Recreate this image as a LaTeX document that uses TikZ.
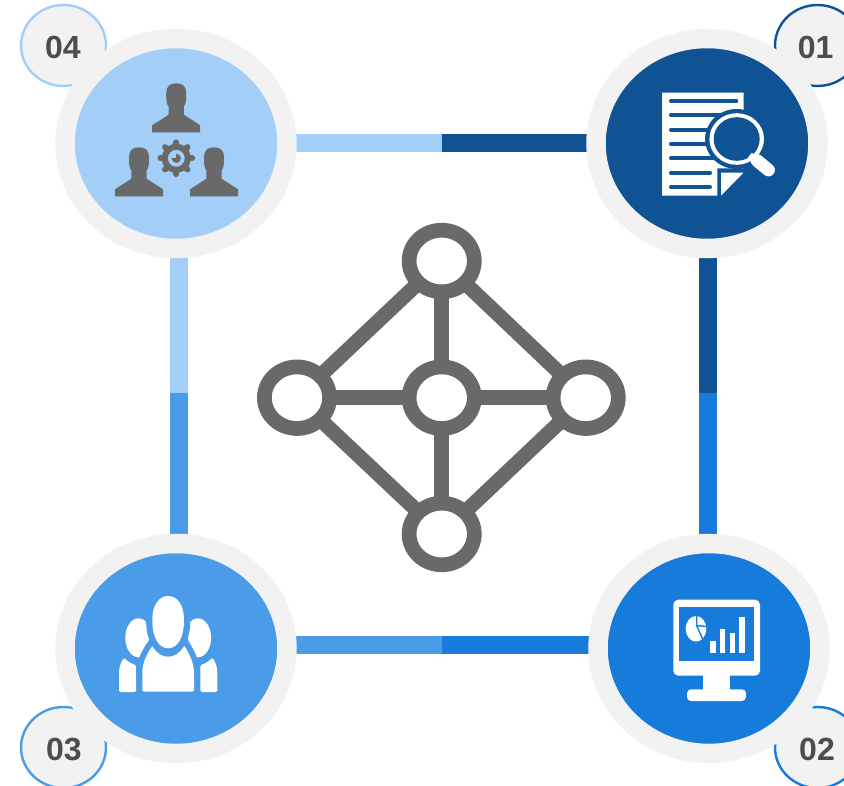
\documentclass[tikz,border=0pt]{standalone}
\usepackage{fontspec}
\setmainfont{Liberation Sans}
\usetikzlibrary{shapes.geometric}
\pgfdeclarelayer{behind}
\pgfsetlayers{behind,main}
\definecolor{cone}{HTML}{0F5394}
\definecolor{ctwo}{HTML}{167BDA}
\definecolor{cthree}{HTML}{4A9CE8}
\definecolor{cfour}{HTML}{A3CEF7}
\definecolor{ring}{HTML}{F2F2F2}
\definecolor{icongray}{HTML}{696969}
\definecolor{numgray}{HTML}{4D4D4D}
\tikzset{
  bigdisc/.style={ellipse,inner sep=0pt,minimum width=222pt,minimum height=210pt,draw=ring,line width=19.5pt},
  badge/.style={ellipse,inner sep=0pt,minimum width=85pt,minimum height=81pt,fill=ring,line width=2.4pt},
  numtext/.style={inner sep=0pt,text=numgray,font=\fontsize{32}{32}\selectfont\bfseries},
  hub/.style={ellipse,inner sep=0pt,minimum width=65.2pt,minimum height=61.6pt,draw=icongray,fill=white,line width=14.7pt},
  spoke/.style={draw=icongray,line width=14.7pt},
  bar/.style={line width=18pt},
  textline/.style={line width=4pt,line cap=round,draw=cone},
  bust/.pic={
    \fill[icongray] (-24,0) -- (-24,-7) -- (-7.7,-17.5) -- (-7.7,-26)
      .. controls (-9.5,-28) and (-10,-31) .. (-10,-39)
      .. controls (-10,-46) and (-6.5,-49) .. (0,-49)
      .. controls (6.5,-49) and (10,-46) .. (10,-39)
      .. controls (10,-31) and (9.5,-28) .. (7.7,-26)
      -- (7.7,-17.5) -- (24,-7) -- (24,0) -- cycle;
  }
}
\begin{document}
\begin{tikzpicture}[x=1pt,y=-1pt]
\useasboundingbox (0,0) rectangle (844,786);
% big discs
\node[bigdisc,fill=cfour] (d4) at (176,143.5) {};
\node[bigdisc,fill=cone] (d1) at (707,143.5) {};
\node[bigdisc,fill=cthree] (d3) at (176,648.5) {};
\node[bigdisc,fill=ctwo] (d2) at (709,648.5) {};
% bar joints
\coordinate (mtop) at (442,143);
\coordinate (mbot) at (442,645);
\coordinate (mleft) at (179,393);
\coordinate (mright) at (708,393);
\begin{pgfonlayer}{behind}
  \begin{scope}
    \clip (0,0) rectangle (844,786);
    \node[badge,draw=cfour] (b4) at (63.5,45.5) {};
    \node[badge,draw=cone] (b1) at (817.5,45.5) {};
    \node[badge,draw=cthree] (b3) at (63.5,747.5) {};
    \node[badge,draw=ctwo] (b2) at (817.5,747.5) {};
  \end{scope}
  \draw[bar,cfour] ([yshift=.5pt]d4.center) -- (mtop);
  \draw[bar,cone] ([yshift=.5pt]d1.center) -- (mtop);
  \draw[bar,cthree] ([yshift=3.5pt]d3.center) -- (mbot);
  \draw[bar,ctwo] ([yshift=3.5pt]d2.center) -- (mbot);
  \draw[bar,cfour] ([xshift=3pt]d4.center) -- (mleft);
  \draw[bar,cthree] ([xshift=3pt]d3.center) -- (mleft);
  \draw[bar,cone] ([xshift=1pt]d1.center) -- (mright);
  \draw[bar,ctwo] ([xshift=-1pt]d2.center) -- (mright);
\end{pgfonlayer}
% numbers
\node[numtext] (n4) at (63,47) {04};
\node[numtext] (n1) at (815.7,47) {01};
\node[numtext] (n3) at (64,750) {03};
\node[numtext] (n2) at (817,749) {02};
% central network
\node[hub] (nc) at (441.7,397.7) {};
\node[hub] (nt) at (441.7,261) {};
\node[hub] (nb) at (441.7,534) {};
\node[hub] (nl) at (297,397.7) {};
\node[hub] (nr) at (585.7,397.7) {};
\begin{pgfonlayer}{behind}
  \draw[spoke] (nc.center) -- (nt.center);
  \draw[spoke] (nc.center) -- (nb.center);
  \draw[spoke] (nc.center) -- (nl.center);
  \draw[spoke] (nc.center) -- (nr.center);
  \draw[spoke] (nt.center) -- (nl.center);
  \draw[spoke] (nt.center) -- (nr.center);
  \draw[spoke] (nb.center) -- (nl.center);
  \draw[spoke] (nb.center) -- (nr.center);
\end{pgfonlayer}
% icon 04: three people and a gear
\pic at (176.2,132.3) {bust};
\pic at (139,196.3) {bust};
\pic at (214,196.3) {bust};
\begin{scope}[shift={(176.3,158.3)}]
  \foreach \a in {0,45,...,315}
    \draw[icongray,line width=6pt,line cap=round] (\a:10) -- (\a:15.8);
  \fill[icongray] (0,0) circle[radius=14.5];
  \fill[cfour] (0,0) circle[radius=8.4];
  \fill[icongray] (0,0) circle[radius=4.6];
  \fill[cfour] (0,0) -- (-5.5,0) -- (-5.5,-5.5) -- (0,-5.5) -- cycle;
\end{scope}
% icon 01: document and magnifier
\fill[white] (662,92.7) -- (743.7,92.7) -- (743.7,168.3) -- (717.3,168.3) -- (717.3,195.7) -- (662,195.7) -- cycle;
\fill[white] (721,172.7) -- (743.5,172.7) -- (721,195.7) -- cycle;
\foreach \yy/\xe in {101/736.3,115.3/740,129.7/740,144/740,158.3/740,172.7/710,187/710}
  \draw[textline] (671,\yy) -- (\xe,\yy);
\fill[cone] (736.7,139) ellipse[x radius=31.6,y radius=30];
\fill[white] (736.7,139) ellipse[x radius=27.3,y radius=25.8];
\fill[cone] (736.7,139) ellipse[x radius=23,y radius=21.8];
\draw[white,line width=6pt] (750,155) -- (758,162);
\draw[white,line width=12.8pt,line cap=round] (757,160.5) -- (768.5,170);
% icon 02: monitor
\fill[white,rounded corners=5pt] (673.3,599.7) rectangle (760,675.7);
\fill[ctwo] (678.7,607) rectangle (754.3,661.3);
\fill[white] (703,672) rectangle (730,691);
\fill[white,rounded corners=4pt] (687,701) -- (687,689.3) -- (746,689.3) -- (746,701) -- cycle;
\fill[white] (696,628.8) ellipse[x radius=10.3,y radius=12.8];
\draw[ctwo,line width=1.4pt] (696.7,614) -- (696.7,625.7) -- (708,626.5);
\draw[ctwo,line width=1.4pt] (696.7,625.7) -- (704,642);
\fill[white] (710.3,641) rectangle (715.7,652.7);
\fill[white] (720,628.7) rectangle (725.3,652.7);
\fill[white] (729.7,633.3) rectangle (735,652.7);
\fill[white] (739.3,616.7) rectangle (744.7,652.7);
% icon 03: group of people
\fill[white,rounded corners=1.5pt] (119,692) -- (119,675) .. controls (119,668) and (120.5,663) .. (124,657.5)
  .. controls (127,661) and (131,663.5) .. (136,665) -- (136,692) -- cycle;
\fill[white,rounded corners=1.5pt] (217.4,692) -- (217.4,675) .. controls (217.4,668) and (215.9,663) .. (212.4,657.5)
  .. controls (209.4,661) and (205.4,663.5) .. (200.4,665) -- (200.4,692) -- cycle;
\fill[white] (138.5,637.8) ellipse[x radius=13.2,y radius=19.5];
\fill[white] (197.9,637.8) ellipse[x radius=13.2,y radius=19.5];
\path[draw=cthree,line width=12pt] (144,691.7) -- (142.3,675) .. controls (142.3,662) and (147,654) .. (153,645) -- (184,645) .. controls (189,654) and (194,662) .. (194,675) -- (192,691.7);
\fill[white,rounded corners=2pt] (142.3,691.7) -- (142.3,675) .. controls (142.3,662) and (147,654) .. (153,645) -- (184,645) .. controls (189,654) and (194,662) .. (194,675) -- (194,691.7) -- cycle;
\fill[cthree] (168.2,622.2) ellipse[x radius=22,y radius=34.5];
\fill[white] (152.3,620)
  .. controls (152.3,605) and (159,596) .. (168.2,596)
  .. controls (177.4,596) and (184,605) .. (184,620)
  .. controls (184,638) and (177.4,648.3) .. (168.2,648.3)
  .. controls (159,648.3) and (152.3,638) .. (152.3,620) -- cycle;
\end{tikzpicture}
\end{document}
